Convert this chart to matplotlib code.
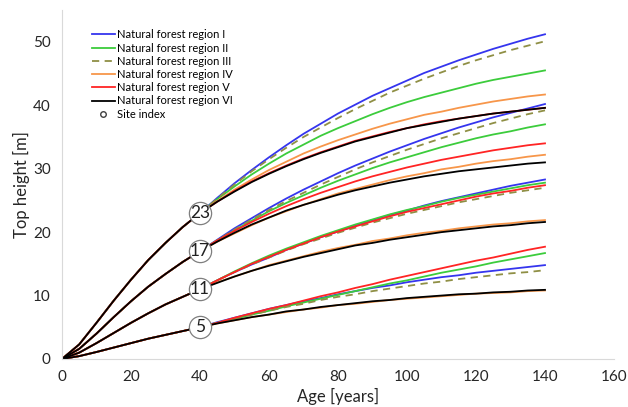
import matplotlib
matplotlib.use("Agg")
import matplotlib.pyplot as plt

# ages before and after the site index reference age (40 years)
ages_early = [0, 5, 10, 15, 20, 25, 30, 35, 40]
ages_late = list(range(45, 141, 5))
site_index = [23, 17, 11, 5]

# top height up to age 40, shared by all regions
early = {
    23: [0, 2.3, 5.7, 9.2, 12.5, 15.6, 18.3, 20.8, 23],
    17: [0, 1.6, 4.0, 6.6, 9.1, 11.4, 13.4, 15.3, 17],
    11: [0, 1.0, 2.5, 4.1, 5.7, 7.2, 8.6, 9.8, 11],
    5: [0, 0.45, 1.1, 1.8, 2.5, 3.2, 3.8, 4.4, 5],
}

# top height from age 45 to 140, per region and site index
region_1 = {
    23: [25.4, 27.7, 29.8, 31.8, 33.7, 35.5, 37.1, 38.7, 40.1, 41.5, 42.7, 43.9, 45.1, 46.1, 47.1, 48.0, 48.9, 49.7, 50.5, 51.2],
    17: [18.8, 20.6, 22.2, 23.8, 25.3, 26.7, 28.0, 29.3, 30.5, 31.6, 32.7, 33.7, 34.7, 35.6, 36.5, 37.3, 38.1, 38.8, 39.5, 40.2],
    11: [12.4, 13.7, 14.9, 16.0, 17.2, 18.2, 19.2, 20.1, 21.0, 21.9, 22.7, 23.4, 24.2, 24.9, 25.5, 26.1, 26.7, 27.3, 27.8, 28.3],
    5: [5.8, 6.5, 7.2, 7.9, 8.5, 9.1, 9.6, 10.2, 10.7, 11.2, 11.6, 12.1, 12.5, 12.9, 13.2, 13.6, 13.9, 14.2, 14.5, 14.8],
}
region_2 = {
    23: [25.2, 27.2, 29.1, 30.8, 32.4, 33.8, 35.2, 36.4, 37.5, 38.6, 39.6, 40.5, 41.3, 42.0, 42.7, 43.4, 44.0, 44.5, 45.0, 45.5],
    17: [18.7, 20.3, 21.8, 23.3, 24.6, 25.8, 27.0, 28.1, 29.1, 30.1, 31.0, 31.8, 32.6, 33.4, 34.1, 34.8, 35.4, 35.9, 36.5, 37.0],
    11: [12.4, 13.8, 15.1, 16.3, 17.4, 18.4, 19.4, 20.3, 21.2, 22.0, 22.8, 23.5, 24.1, 24.8, 25.4, 25.9, 26.4, 26.9, 27.4, 27.8],
    5: [5.7, 6.3, 7.0, 7.6, 8.3, 8.9, 9.5, 10.1, 10.7, 11.3, 11.9, 12.4, 13.0, 13.6, 14.1, 14.6, 15.2, 15.7, 16.2, 16.7],
}
region_3 = {
    23: [25.3, 27.5, 29.6, 31.5, 33.3, 35.0, 36.5, 38.0, 39.4, 40.7, 42.0, 43.1, 44.2, 45.2, 46.2, 47.1, 47.9, 48.7, 49.4, 50.1],
    17: [18.7, 20.4, 22.0, 23.5, 24.9, 26.2, 27.5, 28.7, 29.9, 31.0, 32.0, 33.0, 33.9, 34.8, 35.6, 36.4, 37.2, 37.9, 38.6, 39.2],
    11: [12.4, 13.7, 14.9, 16.0, 17.1, 18.1, 19.0, 19.9, 20.7, 21.5, 22.2, 22.9, 23.5, 24.1, 24.7, 25.2, 25.7, 26.2, 26.6, 27.0],
    5: [5.7, 6.4, 7.0, 7.6, 8.2, 8.7, 9.3, 9.8, 10.2, 10.7, 11.1, 11.5, 11.9, 12.2, 12.6, 12.9, 13.2, 13.5, 13.7, 14.0],
}
region_4 = {
    23: [24.9, 26.7, 28.3, 29.8, 31.1, 32.4, 33.5, 34.5, 35.4, 36.3, 37.1, 37.8, 38.5, 39.0, 39.6, 40.1, 40.6, 41.0, 41.4, 41.7],
    17: [18.5, 19.8, 21.1, 22.3, 23.3, 24.3, 25.2, 26.1, 26.8, 27.5, 28.2, 28.8, 29.3, 29.9, 30.3, 30.8, 31.2, 31.5, 31.9, 32.2],
    11: [12.1, 13.0, 13.9, 14.8, 15.5, 16.2, 16.9, 17.5, 18.0, 18.6, 19.0, 19.5, 19.9, 20.2, 20.6, 20.9, 21.2, 21.4, 21.7, 21.9],
    5: [5.6, 6.1, 6.6, 7.0, 7.4, 7.8, 8.1, 8.5, 8.7, 9.0, 9.3, 9.5, 9.7, 9.9, 10.1, 10.3, 10.4, 10.5, 10.7, 10.8],
}
region_5 = {
    23: [24.8, 26.5, 28.0, 29.3, 30.5, 31.6, 32.6, 33.5, 34.4, 35.1, 35.8, 36.4, 37.0, 37.5, 37.9, 38.3, 38.7, 39.0, 39.3, 39.6],
    17: [18.7, 20.2, 21.6, 22.9, 24.1, 25.2, 26.2, 27.1, 28.0, 28.8, 29.5, 30.2, 30.8, 31.4, 31.9, 32.4, 32.9, 33.3, 33.7, 34.0],
    11: [12.4, 13.7, 15.0, 16.1, 17.2, 18.2, 19.2, 20.1, 20.9, 21.7, 22.5, 23.2, 23.8, 24.4, 25.0, 25.6, 26.1, 26.5, 27.0, 27.4],
    5: [5.7, 6.5, 7.2, 7.9, 8.5, 9.2, 9.9, 10.5, 11.2, 11.8, 12.5, 13.1, 13.7, 14.3, 14.9, 15.5, 16.0, 16.6, 17.2, 17.7],
}
region_6 = {
    23: [24.8, 26.4, 27.9, 29.2, 30.4, 31.5, 32.5, 33.4, 34.3, 35.0, 35.7, 36.4, 36.9, 37.4, 37.9, 38.3, 38.7, 39.0, 39.3, 39.6],
    17: [18.5, 19.9, 21.2, 22.3, 23.4, 24.3, 25.1, 25.9, 26.6, 27.2, 27.8, 28.3, 28.8, 29.2, 29.6, 29.9, 30.2, 30.5, 30.8, 31.0],
    11: [12.0, 13.0, 13.9, 14.7, 15.4, 16.1, 16.7, 17.3, 17.9, 18.3, 18.8, 19.2, 19.6, 20.0, 20.3, 20.6, 20.9, 21.1, 21.4, 21.6],
    5: [5.6, 6.1, 6.6, 7.0, 7.5, 7.8, 8.2, 8.5, 8.8, 9.1, 9.3, 9.6, 9.8, 10.0, 10.2, 10.3, 10.5, 10.6, 10.8, 10.9],
}

regions = [region_1, region_2, region_3, region_4, region_5, region_6]
names = ['Natural forest region I', 'Natural forest region II', 'Natural forest region III',
         'Natural forest region IV', 'Natural forest region V', 'Natural forest region VI']
colors = ['#3535ee', '#3ccc3c', '#8f8f45', '#f7964a', '#ff2424', '#000000']
styles = ['-', '-', (0, (4, 3)), '-', '-', '-']

plt.rcParams['font.family'] = ['Lato', 'DejaVu Sans']

fig = plt.figure(figsize=(6.28, 4.07), dpi=100)
ax = fig.add_axes([0.0987, 0.118, 0.879, 0.857])

ages = ages_early + ages_late
for reg, name, col, ls in zip(regions, names, colors, styles):
    for k, si in enumerate(site_index):
        h = early[si] + reg[si]
        ax.plot(ages, h, color=col, linestyle=ls, linewidth=1.3,
                label=name if k == 0 else None)

# site index markers at age 40
ax.plot([40] * len(site_index), site_index, linestyle='none', marker='o',
        markersize=16, markerfacecolor='white', markeredgecolor='#7f7f7f',
        markeredgewidth=0.9, zorder=5)
ax.plot([], [], linestyle='none', marker='o', markersize=4,
        markerfacecolor='white', markeredgecolor='#404040', label='Site index')
for si in site_index:
    ax.text(40, si, str(si), ha='center', va='center', fontsize=12.5,
            color='#202020', zorder=6)

ax.set_xlim(0, 160)
ax.set_ylim(0, 55)
ax.set_xticks(range(0, 161, 20))
ax.set_yticks(range(0, 51, 10))
ax.tick_params(length=0, labelsize=11, labelcolor='#262626', pad=8)
for s in ['top', 'right']:
    ax.spines[s].set_visible(False)
for s in ['left', 'bottom']:
    ax.spines[s].set_color('#d9d9d9')

ax.set_xlabel('Age [years]', fontsize=12, color='#262626', labelpad=3)
ax.set_ylabel('Top height [m]', fontsize=12, color='#262626', labelpad=2)

ax.legend(loc='upper left', bbox_to_anchor=(0.055, 0.945), frameon=False,
          fontsize=8, handlelength=2.0, handletextpad=0.25,
          labelspacing=0.2, borderaxespad=0.0, borderpad=0.0)

fig.savefig('out.png', dpi=100)
